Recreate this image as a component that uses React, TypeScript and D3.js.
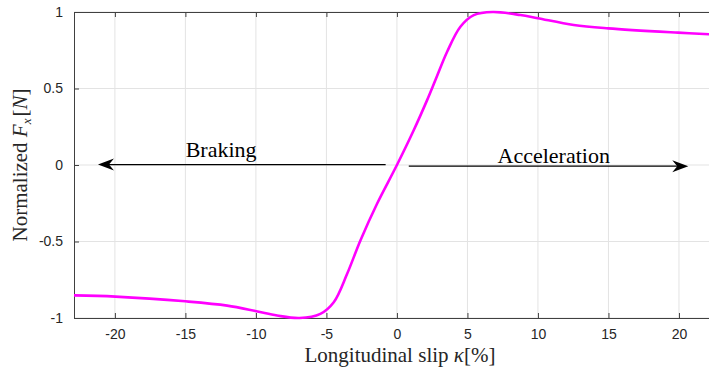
import React, { useEffect, useRef } from 'react';
import * as d3 from 'd3';

// values (slip in %, normalized Fx)
const slip = [-22.9, -19.96, -15.0, -12.04, -9.96, -8.5, -6.9, -5.43, -4.48, -3.53, -2.59, -1.41, 0,
    1.19, 2.14, 2.73, 3.56, 4.5, 5.45, 6.8, 8.76, 9.99, 12.54, 14.98, 19.94, 22.3];
const fx = [-0.852, -0.86, -0.891, -0.919, -0.956, -0.984, -1.0, -0.973, -0.897, -0.711, -0.493, -0.253, 0,
    0.227, 0.424, 0.555, 0.74, 0.904, 0.98, 1.0, 0.98, 0.959, 0.915, 0.893, 0.865, 0.854];

const xTicks = [-20, -15, -10, -5, 0, 5, 10, 15, 20];
const yTicks = [-1, -0.5, 0, 0.5, 1];

// arrow annotations in data units, with label
const arrows = [
    { from: -0.8, to: -21.2, y: 0.003, label: 'Braking', labelX: -12.47, labelY: 0.055 },
    { from: 0.84, to: 20.66, y: -0.008, label: 'Acceleration', labelX: 11.12, labelY: 0.016 },
];

export default function App() {
    const svgRef = useRef<SVGSVGElement>(null);

    useEffect(() => {
        if (!svgRef.current) return;
        const width = 709;
        const height = 374;
        const margin = { top: 12, right: 0, bottom: 56, left: 74 };
        const innerW = width - margin.left - margin.right;
        const innerH = height - margin.top - margin.bottom;

        d3.select(svgRef.current).selectAll('*').remove();
        const svg = d3.select(svgRef.current).attr('width', width).attr('height', height);
        const g = svg.append('g').attr('transform', `translate(${margin.left},${margin.top})`);

        const x = d3.scaleLinear().domain([-22.9, 22.13]).range([0, innerW]);
        const y = d3.scaleLinear().domain([-1, 1]).range([innerH, 0]);

        const axisColor = '#404040';
        const tickFont = '"Liberation Sans", Arial, sans-serif';
        const serif = '"Liberation Serif", "Times New Roman", serif';

        // grid
        g.append('g').selectAll('line').data(xTicks).join('line')
            .attr('x1', d => x(d)).attr('x2', d => x(d))
            .attr('y1', 0).attr('y2', innerH)
            .attr('stroke', '#e3e3e3').attr('stroke-width', 1);
        g.append('g').selectAll('line').data(yTicks).join('line')
            .attr('x1', 0).attr('x2', innerW)
            .attr('y1', d => y(d)).attr('y2', d => y(d))
            .attr('stroke', '#e3e3e3').attr('stroke-width', 1);

        // bottom axis, ticks inward
        const bottom = g.append('g')
            .attr('transform', `translate(0,${innerH})`)
            .call(d3.axisBottom(x).tickValues(xTicks).tickSizeInner(-5).tickSizeOuter(0).tickPadding(11)
                .tickFormat(d => String(d)));
        bottom.select('.domain').attr('stroke', axisColor);
        bottom.selectAll('.tick line').attr('stroke', axisColor);
        bottom.selectAll('text').attr('fill', '#262626').style('font-size', '14px').style('font-family', tickFont);

        // top axis, ticks only
        const top = g.append('g')
            .call(d3.axisTop(x).tickValues(xTicks).tickSizeInner(-5).tickSizeOuter(0).tickFormat(() => ''));
        top.select('.domain').attr('stroke', axisColor);
        top.selectAll('.tick line').attr('stroke', axisColor);

        // left axis
        const left = g.append('g')
            .call(d3.axisLeft(y).tickValues(yTicks).tickSizeInner(-5).tickSizeOuter(0).tickPadding(11)
                .tickFormat(d => String(d)));
        left.select('.domain').attr('stroke', axisColor);
        left.selectAll('.tick line').attr('stroke', axisColor);
        left.selectAll('text').attr('fill', '#262626').style('font-size', '14px').style('font-family', tickFont);

        // curve
        const pts = slip.map((s, i) => [s, fx[i]] as [number, number]);
        const line = d3.line<[number, number]>()
            .x(d => x(d[0]))
            .y(d => y(d[1]))
            .curve(d3.curveCatmullRom.alpha(0.5));
        g.append('path')
            .datum(pts)
            .attr('fill', 'none')
            .attr('stroke', '#ff00ff')
            .attr('stroke-width', 2.6)
            .attr('d', line);

        // arrows
        arrows.forEach(a => {
            const x0 = x(a.from), x1 = x(a.to), yy = y(a.y);
            const dir = x1 > x0 ? 1 : -1;
            g.append('line')
                .attr('x1', x0).attr('x2', x1 - dir * 10)
                .attr('y1', yy).attr('y2', yy)
                .attr('stroke', '#000').attr('stroke-width', 1.3);
            const head = [
                [x1, yy],
                [x1 - dir * 16, yy - 6],
                [x1 - dir * 11, yy],
                [x1 - dir * 16, yy + 6],
            ];
            g.append('path')
                .attr('d', 'M' + head.map(p => p.join(',')).join('L') + 'Z')
                .attr('fill', '#000');
            g.append('text')
                .attr('x', x(a.labelX)).attr('y', y(a.labelY))
                .attr('text-anchor', 'middle')
                .style('font-family', serif).style('font-size', '22px')
                .attr('fill', '#000')
                .text(a.label);
        });

        // x label
        const xl = svg.append('text')
            .attr('x', margin.left + x(0) + 3).attr('y', 362)
            .attr('text-anchor', 'middle')
            .style('font-family', serif).style('font-size', '21px')
            .attr('fill', '#262626');
        xl.append('tspan').text('Longitudinal slip ');
        xl.append('tspan').attr('font-style', 'italic').text('κ');
        xl.append('tspan').text('[%]');

        // y label
        const yl = svg.append('text')
            .attr('transform', `translate(27,${margin.top + innerH / 2}) rotate(-90)`)
            .attr('text-anchor', 'middle')
            .style('font-family', serif).style('font-size', '21px')
            .attr('fill', '#262626');
        yl.append('tspan').text('Normalized ');
        yl.append('tspan').attr('font-style', 'italic').text('F');
        yl.append('tspan').attr('font-style', 'italic').attr('font-size', '13px').attr('dy', 4).text('x');
        yl.append('tspan').attr('dy', -4).attr('dx', 2).text('[');
        yl.append('tspan').attr('font-style', 'italic').text('N');
        yl.append('tspan').text(']');
    }, []);

    return (
        <div style={{ position: 'fixed', left: 0, top: 0, background: '#fff' }}>
            <svg ref={svgRef} style={{ display: 'block' }}></svg>
        </div>
    );
}
